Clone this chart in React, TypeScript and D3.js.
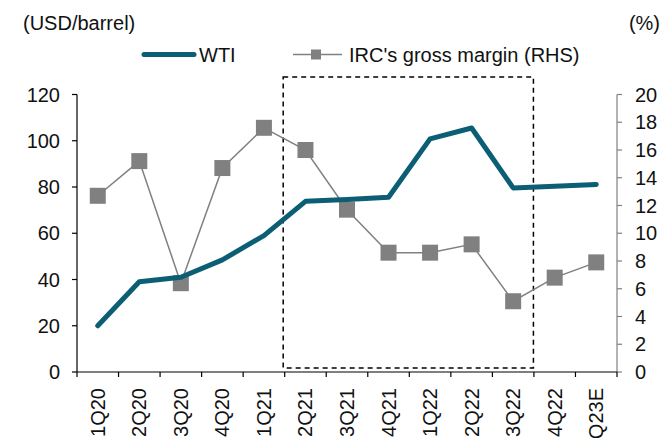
import React from "react";
import * as d3 from "d3";

const categories = ["1Q20", "2Q20", "3Q20", "4Q20", "1Q21", "2Q21", "3Q21", "4Q21", "1Q22", "2Q22", "3Q22", "4Q22", "Q23E"];
const wti = [20, 39, 41, 48.5, 59, 73.8, 74.6, 75.6, 100.8, 105.5, 79.6, 80.3, 81.1];
const grossMargin = [12.7, 15.2, 6.4, 14.7, 17.6, 16.0, 11.7, 8.6, 8.6, 9.2, 5.1, 6.8, 7.9];
const leftTicks = [0, 20, 40, 60, 80, 100, 120];
const rightTicks = [0, 2, 4, 6, 8, 10, 12, 14, 16, 18, 20];
const highlightRange = ["2Q21", "3Q22"];

const W = 663, H = 438;
const left = 77, right = 617, top = 94.5, bottom = 372;
const FONT = "'Liberation Sans', Arial, sans-serif";
const FS = 20;
const TEAL = "#0b5e73";
const GRAY = "#808080";

export default function App() {
  const x = d3.scaleBand<string>().domain(categories).range([left, right]).padding(0);
  const yL = d3.scaleLinear().domain([0, 120]).range([bottom, top]);
  const yR = d3.scaleLinear().domain([0, 20]).range([bottom, top]);
  const cx = (c: string) => (x(c) as number) + x.bandwidth() / 2;

  const wtiLine = d3.line<number>().x((_, i) => cx(categories[i])).y((d) => yL(d))(wti) as string;
  const gmLine = d3.line<number>().x((_, i) => cx(categories[i])).y((d) => yR(d))(grossMargin) as string;

  const rx0 = (x(highlightRange[0]) as number) - 1.5;
  const rx1 = (x(highlightRange[1]) as number) + x.bandwidth() - 0.5;
  const boundaries = d3.range(categories.length + 1).map((i) => left + i * x.bandwidth());

  return (
    <svg width={W} height={H} style={{ position: "absolute", left: 0, top: 0 }} fontFamily={FONT}>
      <rect width={W} height={H} fill="#fff" />
      <text x={23} y={30} fontSize={FS} fill="#111">(USD/barrel)</text>
      <text x={660} y={30} fontSize={FS} fill="#111" textAnchor="end">(%)</text>

      {/* legend */}
      <line x1={144} x2={194} y1={54.5} y2={54.5} stroke={TEAL} strokeWidth={5} strokeLinecap="round" />
      <text x={199} y={62} fontSize={FS} fill="#111">WTI</text>
      <line x1={293} x2={342} y1={54.5} y2={54.5} stroke={GRAY} strokeWidth={1.5} />
      <rect x={311} y={49.5} width={10} height={10} fill={GRAY} />
      <text x={349} y={62} fontSize={FS} fill="#111">IRC's gross margin (RHS)</text>

      {/* dashed highlight */}
      <rect x={rx0} y={77} width={rx1 - rx0} height={291} fill="none" stroke="#000" strokeWidth={1.5} strokeDasharray="5,4" />

      {/* left axis */}
      <line x1={left} x2={left} y1={top} y2={bottom} stroke="#000" strokeWidth={1.2} />
      {leftTicks.map((t) => (
        <g key={"l" + t}>
          <line x1={left - 5} x2={left} y1={yL(t)} y2={yL(t)} stroke="#000" strokeWidth={1.2} />
          <text x={60} y={yL(t) + 7} fontSize={FS} textAnchor="end" fill="#111">{t}</text>
        </g>
      ))}

      {/* right axis */}
      <line x1={right} x2={right} y1={top} y2={bottom} stroke={GRAY} strokeWidth={1.2} />
      {rightTicks.map((t) => (
        <g key={"r" + t}>
          <line x1={right} x2={right + 5} y1={yR(t)} y2={yR(t)} stroke={GRAY} strokeWidth={1.2} />
          <text x={635} y={yR(t) + 7} fontSize={FS} fill="#111">{t}</text>
        </g>
      ))}

      {/* x axis */}
      <line x1={left} x2={right} y1={bottom} y2={bottom} stroke="#000" strokeWidth={1.2} />
      {boundaries.map((bx, i) => (
        <line key={"b" + i} x1={bx} x2={bx} y1={bottom} y2={bottom + 5} stroke="#000" strokeWidth={1.2} />
      ))}
      {categories.map((c) => (
        <text key={c} transform={`translate(${cx(c) + 7},${bottom + 16}) rotate(-90)`} fontSize={FS} textAnchor="end" fill="#111">{c}</text>
      ))}

      {/* series */}
      <path d={gmLine} fill="none" stroke={GRAY} strokeWidth={1.5} />
      {grossMargin.map((v, i) => (
        <rect key={"m" + i} x={cx(categories[i]) - 8} y={yR(v) - 8} width={16} height={16} fill={GRAY} />
      ))}
      <path d={wtiLine} fill="none" stroke={TEAL} strokeWidth={5} strokeLinecap="round" strokeLinejoin="round" />
    </svg>
  );
}
